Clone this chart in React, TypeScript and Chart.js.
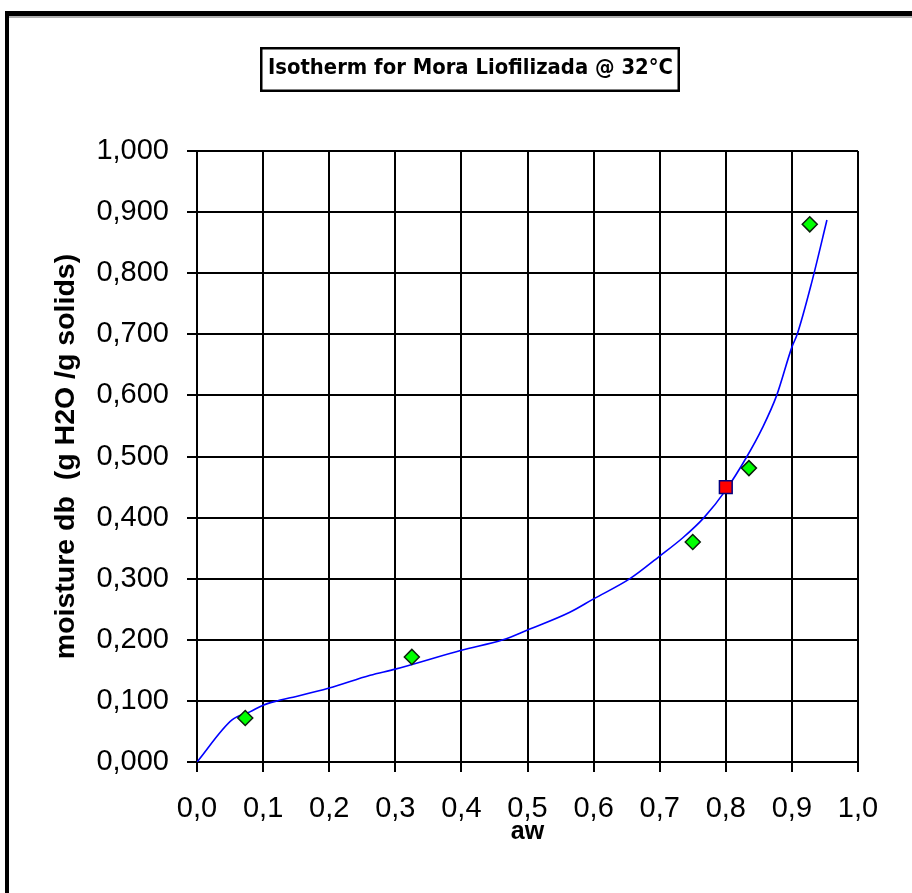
import React, { useEffect, useRef } from "react";
import { Chart, registerables } from "chart.js";

Chart.register(...registerables);

const chartTitle = "Isotherm for Mora Liofilizada @ 32°C";
const xAxisTitle = "aw";
const yAxisTitle = "moisture db  (g H2O /g solids)";

const expAw = [0.073, 0.325, 0.75, 0.835, 0.927];
const expMoisture = [0.072, 0.172, 0.36, 0.481, 0.88];

const markAw = [0.8];
const markMoisture = [0.45];

const curveAw = [0, 0.053, 0.08, 0.1, 0.121, 0.141, 0.2, 0.262, 0.3, 0.4, 0.463, 0.5, 0.564, 0.6, 0.655, 0.7, 0.735, 0.767, 0.8, 0.832, 0.855, 0.877, 0.9, 0.908, 0.93, 0.953];
const curveMoisture = [0, 0.069, 0.082, 0.093, 0.1, 0.105, 0.121, 0.142, 0.152, 0.183, 0.2, 0.216, 0.245, 0.267, 0.3, 0.337, 0.367, 0.4, 0.445, 0.5, 0.546, 0.6, 0.679, 0.7, 0.785, 0.887];

const toPts = (xs: number[], ys: number[]) => xs.map((x, i) => ({ x, y: ys[i] }));

const framePlugin = {
  id: "frame",
  beforeDraw(chart: any) {
    const ctx = chart.ctx;
    ctx.save();
    ctx.fillStyle = "#ffffff";
    ctx.fillRect(0, 0, chart.width, chart.height);
    ctx.fillStyle = "#000000";
    ctx.fillRect(5, 11, 4, chart.height - 11);
    ctx.fillRect(5, 11, chart.width - 5, 5);
    ctx.fillStyle = "#b0b0b0";
    ctx.fillRect(9, 16, chart.width - 9, 2);
    ctx.restore();
  },
  afterDraw(chart: any) {
    const ctx = chart.ctx;
    ctx.save();
    const bx = 260, by = 47, bw = 420, bh = 45;
    ctx.fillStyle = "#ffffff";
    ctx.fillRect(bx, by, bw, bh);
    ctx.strokeStyle = "#000000";
    ctx.lineWidth = 2.5;
    ctx.strokeRect(bx + 1.25, by + 1.25, bw - 2.5, bh - 2.5);
    ctx.font = 'bold 21px "DejaVu Sans"';
    ctx.fillStyle = "#000000";
    ctx.textBaseline = "middle";
    ctx.textAlign = "center";
    const w = ctx.measureText(chartTitle).width;
    const target = 405;
    const sx = target / w;
    ctx.translate(470.5, 69);
    ctx.scale(sx, 1);
    ctx.fillText(chartTitle, 0, 0);
    ctx.restore();
  },
};

export default function App() {
  const ref = useRef<HTMLCanvasElement | null>(null);
  useEffect(() => {
    if (!ref.current) return;
    const tickFont = { family: '"Liberation Sans", Arial, sans-serif', size: 29 };
    const chart = new Chart(ref.current, {
      type: "scatter",
      data: {
        datasets: [
          {
            label: "mark",
            data: toPts(markAw, markMoisture),
            pointStyle: "rect",
            pointRadius: 9,
            backgroundColor: "#ff0000",
            borderColor: "#000080",
            borderWidth: 1.5,
            showLine: false,
          },
          {
            label: "experimental",
            data: toPts(expAw, expMoisture),
            pointStyle: "rectRot",
            pointRadius: 7.5,
            backgroundColor: "#00ff00",
            borderColor: "#0a200a",
            borderWidth: 1.5,
            showLine: false,
          },
          {
            label: "model",
            data: toPts(curveAw, curveMoisture),
            showLine: true,
            borderColor: "#0000ff",
            borderWidth: 1.6,
            pointRadius: 0,
            cubicInterpolationMode: "monotone",
            fill: false,
          },
        ],
      },
      options: {
        animation: false,
        responsive: false,
        devicePixelRatio: 1,
        layout: { padding: { left: 0, top: 151, right: 54, bottom: 0 } },
        plugins: {
          legend: { display: false },
          title: { display: false },
          tooltip: { enabled: false },
        },
        scales: {
          x: {
            type: "linear",
            min: 0,
            max: 1,
            afterFit: (s: any) => { s.height = 131; },
            border: { display: true, color: "#000000", width: 2 },
            grid: { color: "#000000", lineWidth: 2, tickLength: 10, tickColor: "#000000", tickWidth: 2 },
            ticks: {
              stepSize: 0.1,
              color: "#000000",
              font: tickFont,
              padding: 20,
              maxRotation: 0,
              autoSkip: false,
              callback: (v: any) => Number(v).toFixed(1).replace(".", ","),
            },
            title: {
              display: true,
              text: xAxisTitle,
              color: "#000000",
              font: { family: '"Liberation Sans", Arial, sans-serif', size: 25, weight: "bold" },
              padding: { top: 0, bottom: 46 },
            },
          },
          y: {
            type: "linear",
            min: 0,
            max: 1,
            afterFit: (s: any) => { s.width = 197; },
            border: { display: true, color: "#000000", width: 2 },
            grid: { color: "#000000", lineWidth: 2, tickLength: 10, tickColor: "#000000", tickWidth: 2 },
            ticks: {
              stepSize: 0.1,
              color: "#000000",
              font: tickFont,
              padding: 18,
              autoSkip: false,
              callback: (v: any) => Number(v).toFixed(3).replace(".", ","),
            },
            title: {
              display: true,
              text: yAxisTitle,
              color: "#000000",
              font: { family: '"Liberation Sans", Arial, sans-serif', size: 28.5, weight: "bold" },
              padding: { top: 49, bottom: 0 },
            },
          },
        },
      },
      plugins: [framePlugin],
    });
    return () => chart.destroy();
  }, []);
  return (
    <div style={{ position: "fixed", left: 0, top: 0, width: 912, height: 893, overflow: "hidden", background: "#fff" }}>
      <canvas ref={ref} width={912} height={893} style={{ width: 912, height: 893, display: "block" }} />
    </div>
  );
}
